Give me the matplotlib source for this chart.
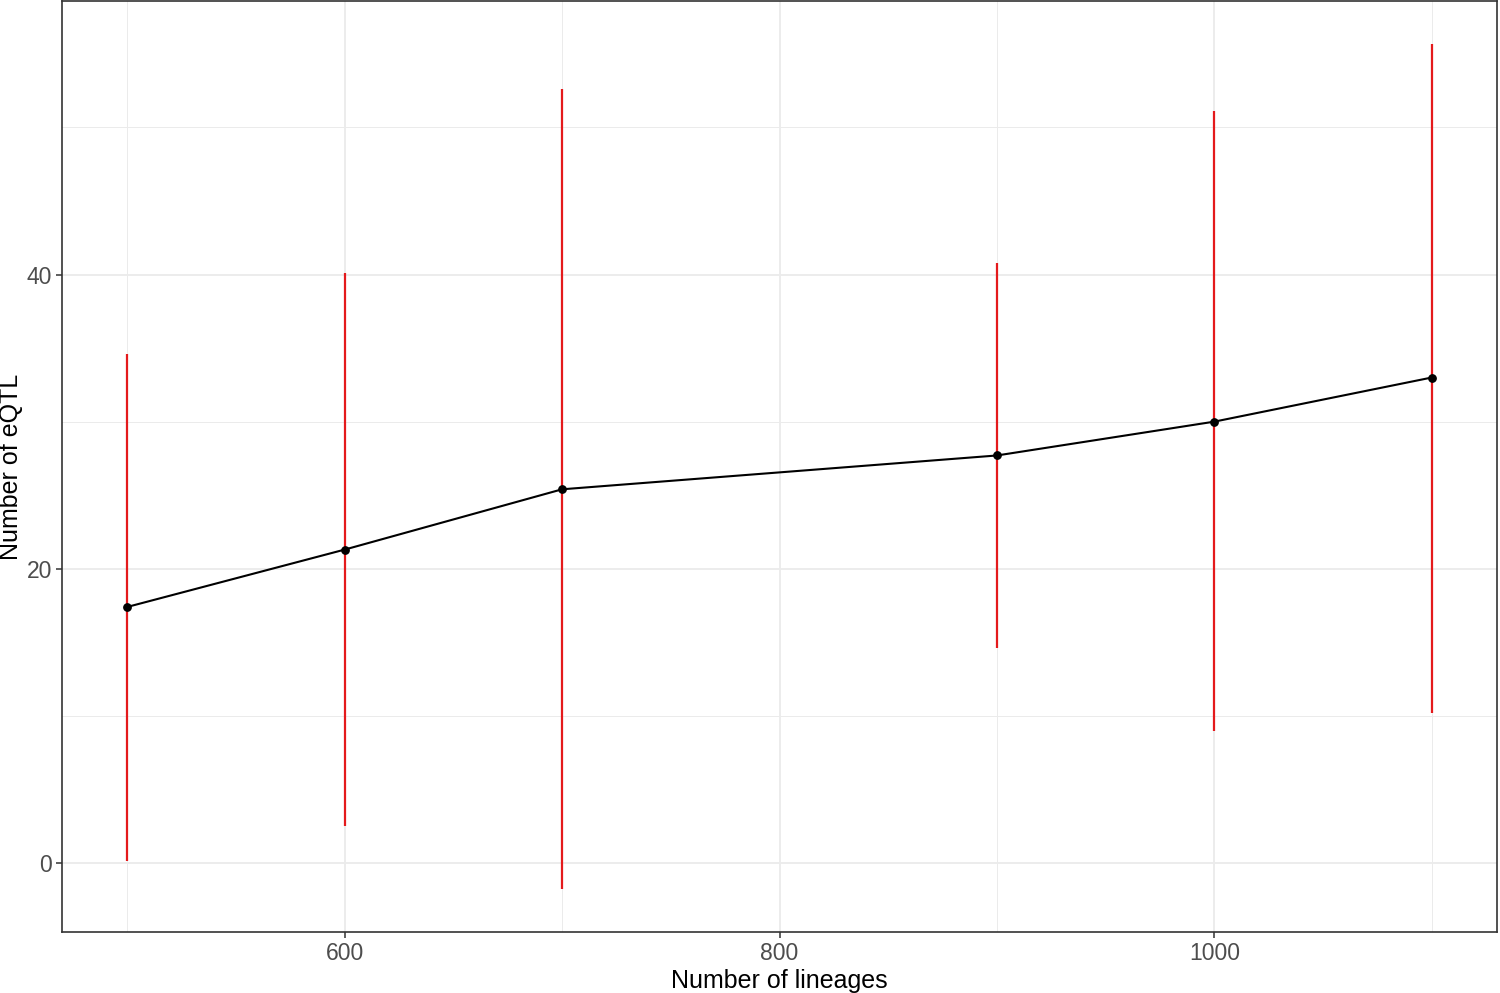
import matplotlib
matplotlib.use("Agg")
import matplotlib.pyplot as plt
from matplotlib.ticker import MultipleLocator

plt.rcParams['font.family'] = ['Liberation Sans', 'DejaVu Sans']

# data
lineages = [500, 600, 700, 900, 1000, 1100]
mean_eqtl = [17.4, 21.3, 25.4, 27.7, 30.0, 33.0]
lower = [0.1, 2.5, -1.8, 14.6, 9.0, 10.2]
upper = [34.6, 40.1, 52.6, 40.8, 51.1, 55.7]

fig = plt.figure(figsize=(15, 9.93), dpi=100)
ax = fig.add_axes([62 / 1500, 61 / 993, 1435 / 1500, 931 / 993])

# error bars (red vertical segments)
ax.vlines(lineages, lower, upper, color='#E41A1C', linewidth=1.6, zorder=3)
# mean line and points
ax.plot(lineages, mean_eqtl, color='black', linewidth=1.5, zorder=4)
ax.scatter(lineages, mean_eqtl, color='black', s=28, zorder=5)

ax.set_xlim(470, 1130)
ax.set_ylim(-4.7, 58.6)
ax.xaxis.set_major_locator(MultipleLocator(200))
ax.xaxis.set_minor_locator(MultipleLocator(100))
ax.yaxis.set_major_locator(MultipleLocator(20))
ax.yaxis.set_minor_locator(MultipleLocator(10))

ax.grid(which='major', color='#EBEBEB', linewidth=1.3, zorder=0)
ax.grid(which='minor', color='#EBEBEB', linewidth=0.7, zorder=0)
ax.set_axisbelow(True)

for s in ax.spines.values():
    s.set_color('#333333')
    s.set_linewidth(1.2)

ax.tick_params(which='major', length=4, width=1.1, color='#333333',
               labelsize=16.5, labelcolor='#4D4D4D', pad=3)
ax.tick_params(which='minor', length=0)

ax.set_xlabel('Number of lineages', fontsize=18, color='black', labelpad=3)
ax.set_ylabel('Number of eQTL', fontsize=18, color='black', labelpad=3)

fig.savefig('out.png', dpi=100)
